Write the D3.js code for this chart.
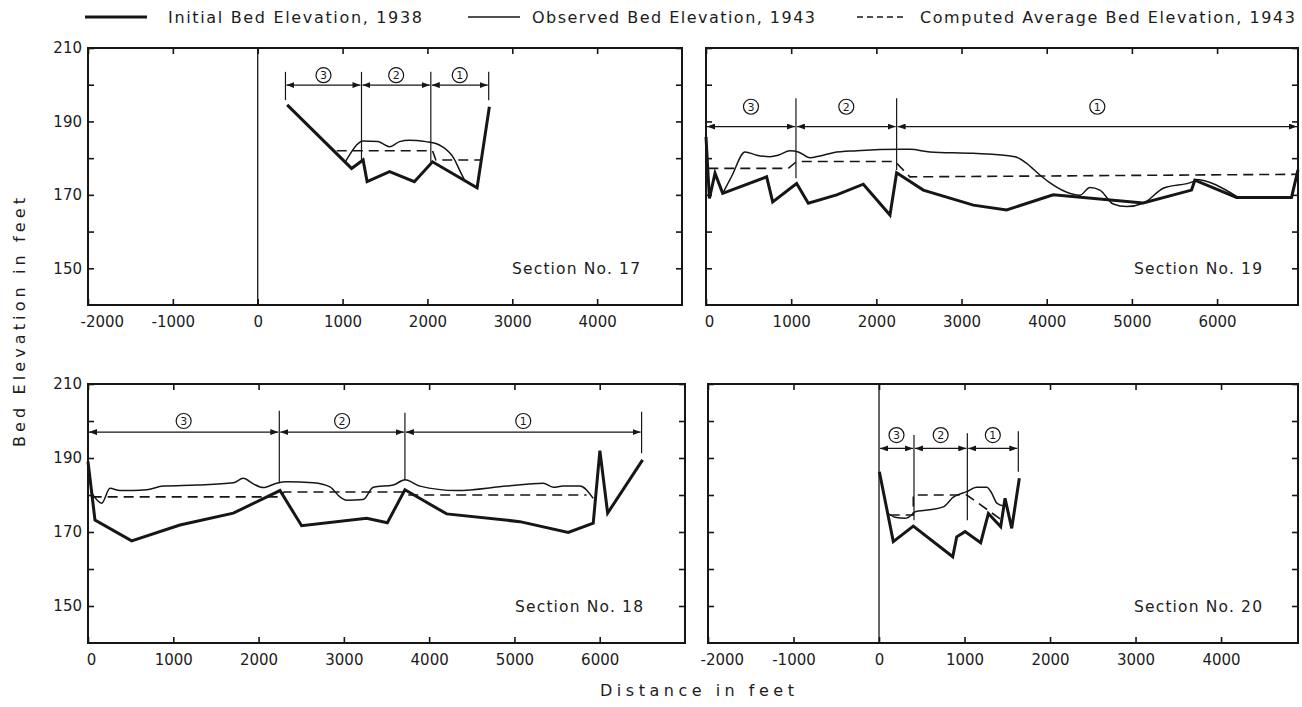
<!DOCTYPE html>
<html><head><meta charset="utf-8">
<script src="https://cdn.jsdelivr.net/npm/d3@7"></script>
<style>
html,body{margin:0;padding:0;background:#fff;}
svg{display:block;}
text{font-family:"DejaVu Sans",sans-serif;fill:#1c1c1c;}
</style></head><body>
<svg id="chart" width="1302" height="707"></svg>
<script>
// ---------------- DATA ----------------
const yTickValues = [150, 160, 170, 180, 190, 200, 210];
const yTickLabels = [150, 170, 190, 210];
const segmentLabels = ["3", "2", "1"];

const legendLabels = ["Initial Bed Elevation, 1938", "Observed Bed Elevation, 1943", "Computed Average Bed Elevation, 1943"];
const xAxisTitle = "Distance in feet";
const yAxisTitle = "Bed Elevation in feet";

// Section 17  [distance ft, elevation ft]
const xTicks17 = [-2000, -1000, 0, 1000, 2000, 3000, 4000];
const sec17Initial = [[347,194.5],[1106,177.2],[1242,179.5],[1289,173.6],[1554,176.3],[1846,173.6],[2060,179.0],[2585,171.9],[2730,194.0]];
const sec17Observed = [[1030,178.9],[1100,181.5],[1165,183.6],[1242,184.7],[1417,184.5],[1554,183.1],[1671,184.5],[1787,184.9],[1982,184.5],[2100,184.0],[2177,183.1],[2313,179.9],[2390,176.2],[2440,173.9]];
const sec17Computed = [[931,182.0],[2060,182.0],[2099,179.5],[2635,179.5]];
const sec17Bounds = [327, 1223, 2040, 2722];
const sec17Dividers = [[327,203.5,195.8],[1223,203.5,179.5],[2040,203.5,179.0],[2722,203.5,195.8]];
const sec17ArrowElev = 199.9, sec17LabelElev = 202.6;

// Section 19
const xTicks19 = [0, 1000, 2000, 3000, 4000, 5000, 6000];
const sec19Initial = [[0,185.8],[40,169],[106,175.9],[196,170.4],[712,174.9],[783,168.1],[1064,173.1],[1201,167.7],[1534,170],[1847,172.9],[2160,164.5],[2238,176],[2551,171.3],[3138,167.2],[3529,165.9],[4076,170],[5133,167.8],[5700,171.3],[5739,174],[6229,169.3],[6874,169.3],[6950,176.8]];
const sec19Observed = [[196,170.4],[300,175],[458,181.7],[595,180.8],[751,180.4],[849,180.8],[986,182],[1083,181.7],[1221,180.1],[1338,180.6],[1494,181.5],[1769,182],[2316,182.4],[2394,182.4],[2629,181.7],[3138,181.3],[3627,180.4],[3764,178.6],[3920,175.4],[4018,173.6],[4390,169.9],[4507,172],[4624,171.3],[4781,167.5],[4938,166.8],[5133,167.7],[5368,171.8],[5720,173.6],[5739,174.2],[6229,169.6]];
const sec19Computed = [[27,177.2],[966,177.2],[1064,179.1],[2218,179.1],[2394,174.9],[6950,175.6]];
const sec19Bounds = [0, 1056, 2238, 6950];
const sec19Dividers = [[1056,196.3,174.5],[2238,196.3,176.8]];
const sec19ArrowElev = 188.6, sec19LabelElev = 194.0;

// Section 18
const xTicks18 = [0, 1000, 2000, 3000, 4000, 5000, 6000];
const sec18Initial = [[0,189],[82,173.2],[512,167.6],[1078,171.9],[1704,175.1],[2251,181.2],[2505,171.7],[3267,173.7],[3510,172.5],[3716,181.4],[4205,174.9],[5064,172.8],[5631,169.9],[5924,172.4],[6002,192],[6093,175.1],[6503,189.5]];
const sec18Observed = [[43,180.5],[161,177.8],[258,181.8],[375,181.2],[531,181.2],[688,181.4],[883,182.4],[1274,182.7],[1704,183.3],[1821,184.5],[1938,183],[2055,182],[2212,183.2],[2329,183.6],[2641,183.3],[2837,182.2],[2954,179.5],[3033,178.6],[3227,178.8],[3345,182.1],[3579,182.7],[3716,184.1],[3892,182.4],[4322,181.2],[4908,182.4],[5337,183.2],[5455,182.1],[5572,182.4],[5768,182.4],[5924,179.1]];
const sec18Computed = [[43,179.5],[2251,179.5],[2300,180.8],[3716,180.8],[3750,180],[5846,180]];
const sec18Bounds = [0, 2243, 3716, 6491];
const sec18Dividers = [[2243,202.8,183.2],[3716,202.2,184],[6491,202.5,191.3]];
const sec18ArrowElev = 197.0, sec18LabelElev = 200.0;

// Section 20
const xTicks20 = [-2000, -1000, 0, 1000, 2000, 3000, 4000];
const sec20Initial = [[4,186.3],[167,167.4],[401,171.6],[862,163.3],[909,168.7],[1006,170.1],[1189,167.1],[1279,175],[1423,171.4],[1474,179.1],[1552,171],[1641,184.5]];
const sec20Observed = [[109,175],[187,174],[304,173.7],[382,174.6],[421,175.5],[596,176],[752,176.8],[869,179.4],[1026,180.9],[1143,182.1],[1260,182.1],[1318,180.5],[1377,177.8],[1460,177]];
const sec20Computed = [[125,174.6],[401,174.6],[401,180],[1026,180],[1420,173.5]];
const sec20Bounds = [0, 409, 1033, 1629];
const sec20Dividers = [[409,196.2,173.2],[1033,196.7,173.2],[1629,197.2,186.3]];
const sec20ArrowElev = 192.6, sec20LabelElev = 196.2;

// ---------------- LAYOUT ----------------
const svg = d3.select("#chart");
const INK = "#161616";
const fmt = d => String(d);   // plain hyphen-minus, as in the original lettering

const defs = svg.append("defs");
defs.append("marker").attr("id","arr").attr("viewBox","0 0 8 6")
  .attr("refX",8).attr("refY",3).attr("markerWidth",8).attr("markerHeight",6)
  .attr("markerUnits","userSpaceOnUse").attr("orient","auto-start-reverse")
  .append("path").attr("d","M0,0L8,3L0,6Z").attr("fill",INK);

const panels = [
  {name:"Section No. 17", box:[88,682,48,305], xDomain:[-2000,5000], ticks:xTicks17, yLabels:true, zero:true,
   initial:sec17Initial, observed:sec17Observed, computed:sec17Computed, bounds:sec17Bounds, dividers:sec17Dividers,
   arrowElev:sec17ArrowElev, labelElev:sec17LabelElev, secRight:42},
  {name:"Section No. 19", box:[706,1298,48,305], xDomain:[0,6950], ticks:xTicks19, yLabels:false, zero:false,
   initial:sec19Initial, observed:sec19Observed, computed:sec19Computed, bounds:sec19Bounds, dividers:sec19Dividers,
   arrowElev:sec19ArrowElev, labelElev:sec19LabelElev, secRight:36},
  {name:"Section No. 18", box:[88,685,384,643], xDomain:[0,7000], ticks:xTicks18, yLabels:true, zero:false,
   initial:sec18Initial, observed:sec18Observed, computed:sec18Computed, bounds:sec18Bounds, dividers:sec18Dividers,
   arrowElev:sec18ArrowElev, labelElev:sec18LabelElev, secRight:42},
  {name:"Section No. 20", box:[708,1298,384,643], xDomain:[-2000,4900], ticks:xTicks20, yLabels:false, zero:true,
   initial:sec20Initial, observed:sec20Observed, computed:sec20Computed, bounds:sec20Bounds, dividers:sec20Dividers,
   arrowElev:sec20ArrowElev, labelElev:sec20LabelElev, secRight:36}
];

function styleAxis(g){
  g.select(".domain").remove();
  g.selectAll(".tick line").attr("stroke",INK).attr("stroke-width",1.6);
  g.selectAll("text").attr("font-family","DejaVu Sans, sans-serif").attr("font-size",15).attr("fill","#1c1c1c");
}

panels.forEach(p => {
  const [x0,x1,y0,y1] = p.box;
  const x = d3.scaleLinear().domain(p.xDomain).range([x0,x1]);
  const y = d3.scaleLinear().domain([140,210]).range([y1,y0]);
  const g = svg.append("g");

  const bottom = g.append("g").attr("transform",`translate(0,${y1})`)
    .call(d3.axisBottom(x).tickValues(p.ticks).tickSize(-6).tickPadding(11).tickFormat(fmt))
    .call(styleAxis);
  bottom.selectAll(".tick").filter(d => d === p.xDomain[0]).select("text").each(function(){
    const w = this.getComputedTextLength();
    d3.select(this).attr("x", Math.max(w/2 - 8, 3));
  });
  g.append("g").attr("transform",`translate(0,${y0})`)
    .call(d3.axisTop(x).tickValues(p.ticks).tickSize(-6).tickFormat(""))
    .call(styleAxis);
  g.append("g").attr("transform",`translate(${x0},0)`)
    .call(d3.axisLeft(y).tickValues(yTickValues).tickSize(-6).tickPadding(6)
      .tickFormat(d => p.yLabels && yTickLabels.includes(d) ? d : ""))
    .call(styleAxis);
  g.append("g").attr("transform",`translate(${x1},0)`)
    .call(d3.axisRight(y).tickValues(yTickValues).tickSize(-6).tickFormat(""))
    .call(styleAxis);

  g.append("rect").attr("x",x0).attr("y",y0).attr("width",x1-x0).attr("height",y1-y0)
    .attr("fill","none").attr("stroke",INK).attr("stroke-width",2);

  if (p.zero) {
    g.append("line").attr("x1",x(0)).attr("x2",x(0)).attr("y1",y0).attr("y2",y1)
      .attr("stroke",INK).attr("stroke-width",1.3);
  }

  const line = d3.line().x(d => x(d[0])).y(d => y(d[1]));
  g.append("path").attr("d", line(p.computed)).attr("fill","none")
    .attr("stroke",INK).attr("stroke-width",1.6).attr("stroke-dasharray","10,6");
  g.append("path").attr("d", line.curve(d3.curveMonotoneX)(p.observed)).attr("fill","none")
    .attr("stroke",INK).attr("stroke-width",1.5);
  line.curve(d3.curveLinear);
  g.append("path").attr("d", line(p.initial)).attr("fill","none")
    .attr("stroke",INK).attr("stroke-width",3).attr("stroke-linejoin","miter");

  g.selectAll(".div").data(p.dividers).enter().append("line")
    .attr("x1", d => x(d[0])).attr("x2", d => x(d[0]))
    .attr("y1", d => y(d[1])).attr("y2", d => y(d[2]))
    .attr("stroke",INK).attr("stroke-width",1.2);

  const segs = d3.range(p.bounds.length - 1).map(i => ({a:p.bounds[i], b:p.bounds[i+1], label:segmentLabels[i]}));
  g.selectAll(".arr").data(segs).enter().append("line")
    .attr("x1", d => x(d.a) + 1).attr("x2", d => x(d.b) - 1)
    .attr("y1", y(p.arrowElev)).attr("y2", y(p.arrowElev))
    .attr("stroke",INK).attr("stroke-width",1.3)
    .attr("marker-start","url(#arr)").attr("marker-end","url(#arr)");
  const lab = g.selectAll(".lab").data(segs).enter().append("g")
    .attr("transform", d => `translate(${(x(d.a)+x(d.b))/2},${y(p.labelElev)})`);
  lab.append("circle").attr("r",7.5).attr("fill","#fff").attr("stroke",INK).attr("stroke-width",1.2);
  lab.append("text").attr("text-anchor","middle").attr("dy","0.36em").attr("font-size",11).text(d => d.label);

  g.append("text").attr("x", x1 - p.secRight).attr("y", y(150) + 6)
    .attr("text-anchor","end").attr("font-size",15.5)
    .attr("textLength",128).attr("lengthAdjust","spacing").text(p.name);
});

// ---------------- LEGEND ----------------
const legendLayout = [
  {x1:85, x2:147, tx:168, tl:254, w:3, dash:null},
  {x1:468, x2:520, tx:532, tl:283, w:1.5, dash:null},
  {x1:857, x2:905, tx:920, tl:375, w:1.5, dash:"6,4"}
];
const lg = svg.append("g");
legendLabels.forEach((t, i) => {
  const L = legendLayout[i];
  const l = lg.append("line").attr("x1",L.x1).attr("x2",L.x2).attr("y1",17).attr("y2",17)
    .attr("stroke",INK).attr("stroke-width",L.w);
  if (L.dash) l.attr("stroke-dasharray",L.dash);
  lg.append("text").attr("x",L.tx).attr("y",23).attr("font-size",16)
    .attr("textLength",L.tl).attr("lengthAdjust","spacing").text(t);
});

// ---------------- AXIS TITLES ----------------
svg.append("text").attr("x",600).attr("y",696).attr("font-size",16)
  .attr("textLength",194).attr("lengthAdjust","spacing").text(xAxisTitle);
svg.append("text").attr("transform","translate(25,447) rotate(-90)").attr("font-size",16)
  .attr("textLength",249).attr("lengthAdjust","spacing").text(yAxisTitle);
</script>
</body></html>
